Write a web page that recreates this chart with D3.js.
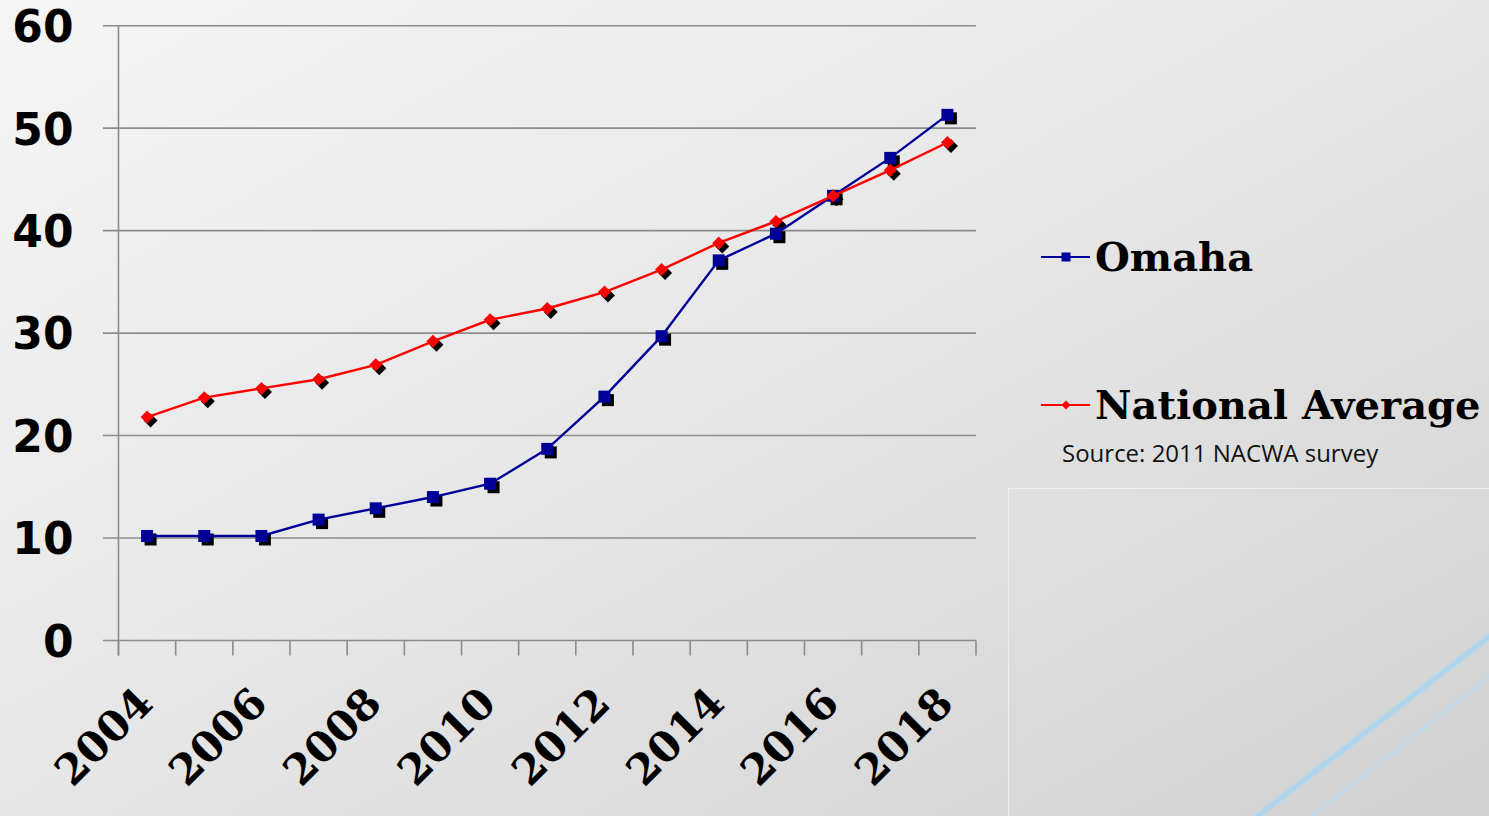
<!DOCTYPE html>
<html>
<head>
<meta charset="utf-8">
<script src="https://cdn.jsdelivr.net/npm/d3@7"></script>
<style>
  html, body { margin: 0; padding: 0; overflow: hidden; }
  svg { display: block; }
</style>
</head>
<body>
<svg id="chart" width="1489" height="816"></svg>
<script>
// Sewer rate comparison, 2004–2018
const years = [2004, 2005, 2006, 2007, 2008, 2009, 2010, 2011, 2012, 2013, 2014, 2015, 2016, 2017, 2018];
const omaha = [10.2, 10.2, 10.2, 11.8, 12.9, 14.0, 15.3, 18.7, 23.8, 29.7, 37.1, 39.7, 43.4, 47.1, 51.3];
const nationalAverage = [21.8, 23.7, 24.6, 25.5, 26.9, 29.2, 31.3, 32.4, 34.0, 36.2, 38.8, 40.9, 43.4, 45.9, 48.6];
const yTicks = [0, 10, 20, 30, 40, 50, 60];
const xLabels = [2004, 2006, 2008, 2010, 2012, 2014, 2016, 2018];
const seriesNames = ["Omaha", "National Average"];
const sourceNote = "Source: 2011 NACWA survey";

const svg = d3.select("#chart");
const W = 1489, H = 816;

// slide background
const defs = svg.append("defs");
const bg = defs.append("linearGradient").attr("id", "bg")
  .attr("x1", "0").attr("y1", "0").attr("x2", "1").attr("y2", "1");
bg.append("stop").attr("offset", "0%").attr("stop-color", "#f5f5f5");
bg.append("stop").attr("offset", "50%").attr("stop-color", "#e6e6e6");
bg.append("stop").attr("offset", "100%").attr("stop-color", "#d0d0d0");
svg.append("rect").attr("width", W).attr("height", H).attr("fill", "url(#bg)");

// faint panel outline at lower right
svg.append("rect").attr("x", 1008.5).attr("y", 488.5).attr("width", 500).attr("height", 400)
  .attr("fill", "#ffffff").attr("fill-opacity", 0.03)
  .attr("stroke", "#f2f2f2").attr("stroke-opacity", 0.8).attr("stroke-width", 1);

// decorative corner stripes
const blur = defs.append("filter").attr("id", "soft");
blur.append("feGaussianBlur").attr("stdDeviation", 1.2);
svg.append("line").attr("x1", 1250).attr("y1", 822).attr("x2", 1495).attr("y2", 632)
  .attr("stroke", "#a9d6f2").attr("stroke-width", 5).attr("filter", "url(#soft)");
svg.append("line").attr("x1", 1305).attr("y1", 822).attr("x2", 1495).attr("y2", 672)
  .attr("stroke", "#b9d9ec").attr("stroke-width", 3.5).attr("stroke-opacity", 0.75).attr("filter", "url(#soft)");

// scales
const x = d3.scaleBand().domain(years).range([118.5, 976]).padding(0);
const y = d3.scaleLinear().domain([0, 60]).range([640.5, 25.7]);
const cx = d => x(d) + x.bandwidth() / 2;

const gridColor = "#8c8c8c";

// horizontal gridlines (including the baseline)
svg.append("g").selectAll("line").data(yTicks).join("line")
  .attr("x1", 103).attr("x2", 976)
  .attr("y1", d => y(d)).attr("y2", d => y(d))
  .attr("stroke", gridColor).attr("stroke-width", 1.6);

// y axis
const yAxis = d3.axisLeft(y).tickValues(yTicks).tickSize(0).tickPadding(0).tickFormat(d3.format("d"));
const gy = svg.append("g").attr("transform", "translate(118.5,0)").call(yAxis);
gy.select(".domain").remove();
svg.append("line").attr("x1", 118.5).attr("x2", 118.5).attr("y1", y(60)).attr("y2", 655.5)
  .attr("stroke", gridColor).attr("stroke-width", 1.6);
gy.selectAll("text")
  .attr("x", -45).attr("dy", "0.36em")
  .style("font-family", "'DejaVu Sans', Verdana, sans-serif")
  .style("font-weight", "bold").style("font-size", "44px").attr("fill", "#000");

// x axis tick marks at band edges
const edges = years.map(d => x(d)).concat([x.range()[1]]);
svg.append("g").selectAll("line").data(edges).join("line")
  .attr("x1", d => d).attr("x2", d => d)
  .attr("y1", y(0)).attr("y2", 655.5)
  .attr("stroke", gridColor).attr("stroke-width", 1.6);

// x labels, rotated
const xAxis = d3.axisBottom(x).tickValues(xLabels).tickSize(0).tickPadding(0);
const gx = svg.append("g").attr("transform", `translate(0,${y(0)})`).call(xAxis);
gx.select(".domain").remove();
gx.selectAll("text")
  .attr("text-anchor", "end")
  .attr("y", 0).attr("dy", 0)
  .attr("transform", "translate(8,65) rotate(-45)")
  .style("font-family", "'DejaVu Serif', 'Liberation Serif', serif")
  .style("font-weight", "bold").style("font-size", "42px").attr("fill", "#000");

// series
const series = [
  { name: seriesNames[0], values: omaha, color: "#000099", marker: "square" },
  { name: seriesNames[1], values: nationalAverage, color: "#ff0000", marker: "diamond" }
];

const line = d3.line().x((d, i) => cx(years[i])).y(d => y(d));

function drawMarker(g, kind, color, size) {
  if (kind === "square") {
    g.append("rect").attr("x", -size / 2).attr("y", -size / 2).attr("width", size).attr("height", size)
      .attr("fill", color);
  } else {
    const s = size / 2;
    g.append("path").attr("d", `M0,${-s}L${s},0L0,${s}L${-s},0Z`).attr("fill", color);
  }
}

// drop shadows beneath the markers
series.forEach(s => {
  const sh = svg.append("g");
  s.values.forEach((v, i) => {
    const g = sh.append("g").attr("transform", `translate(${cx(years[i]) + 3.5},${y(v) + 3.5})`);
    drawMarker(g, s.marker, "#000", s.marker === "square" ? 12 : 14);
  });
});

series.forEach(s => {
  svg.append("path").datum(s.values).attr("d", line)
    .attr("fill", "none").attr("stroke", s.color).attr("stroke-width", 2.4);
  const mk = svg.append("g");
  s.values.forEach((v, i) => {
    const g = mk.append("g").attr("transform", `translate(${cx(years[i])},${y(v)})`);
    drawMarker(g, s.marker, s.color, s.marker === "square" ? 12 : 13);
  });
});

// legend
const legendY = [257, 405];
series.forEach((s, i) => {
  const g = svg.append("g").attr("transform", `translate(1041,${legendY[i]})`);
  g.append("line").attr("x1", 0).attr("x2", 49).attr("y1", 0).attr("y2", 0)
    .attr("stroke", s.color).attr("stroke-width", 2.2);
  const mg = g.append("g").attr("transform", "translate(25,0)");
  drawMarker(mg, s.marker, s.color, 9);
  g.append("text").attr("x", 54).attr("y", 0).attr("dy", "0.36em")
    .style("font-family", "'DejaVu Serif', 'Liberation Serif', serif")
    .style("font-weight", "bold").style("font-size", "40px").attr("fill", "#000")
    .text(s.name);
});

svg.append("text").attr("x", 1062).attr("y", 462)
  .style("font-family", "'Open Sans', 'Noto Sans', sans-serif")
  .style("font-size", "24px").attr("fill", "#111")
  .text(sourceNote);
</script>
</body>
</html>
